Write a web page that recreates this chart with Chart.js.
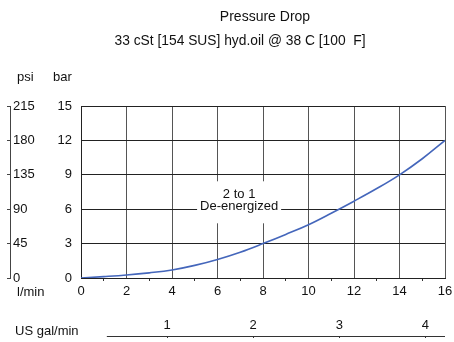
<!DOCTYPE html>
<html>
<head>
<meta charset="utf-8">
<script src="https://cdn.jsdelivr.net/npm/chart.js@4/dist/chart.umd.min.js"></script>
<style>
  html, body { margin: 0; padding: 0; background: #fff; }
  #wrap { width: 454px; height: 342px; }
</style>
</head>
<body>
<div id="wrap"><canvas id="chart" width="454" height="342"></canvas></div>
<script>
// Werte
const flowLpm = [0, 1, 2, 3, 4, 5, 6, 7, 8, 9, 10, 11, 12, 13, 14, 15, 16];
const dropBar = [0, 0.12, 0.26, 0.45, 0.7, 1.1, 1.62, 2.25, 3.0, 3.8, 4.65, 5.65, 6.7, 7.8, 9.0, 10.4, 12.0];
const barTicks = [0, 3, 6, 9, 12, 15];
const psiLabels = ['0', '45', '90', '135', '180', '215'];
const galTicks = [1, 2, 3, 4];
const LPM_PER_GAL = 3.785;

const titleText = 'Pressure Drop';
const subtitleText = '33 cSt [154 SUS] hyd.oil @ 38 C [100  F]';
const noteLines = ['2 to 1', 'De-energized'];
const noteAt = { x: 6.95, y: 7.3 }; // in Achsen-Einheiten (l/min, bar)
const galLineFrom = 0.3;            // gal/min, hier beginnt die untere Linie

const FONT = '"Liberation Sans", Arial, sans-serif';

// freie Texte, Kommentar und gal-Linie
const textPlugin = {
    id: 'texts',
    afterDraw(chart) {
        const ctx = chart.ctx;
        const gal = chart.scales.gal;
        ctx.save();

        // Linie der gal/min Achse
        ctx.strokeStyle = '#333';
        ctx.lineWidth = 1;
        ctx.beginPath();
        ctx.moveTo(gal.getPixelForValue(galLineFrom), gal.top + 0.5);
        ctx.lineTo(gal.right, gal.top + 0.5);
        ctx.stroke();

        ctx.fillStyle = '#111';
        ctx.textBaseline = 'middle';

        ctx.font = '14px ' + FONT;
        ctx.textAlign = 'center';
        ctx.fillText(titleText, 265, 17);
        ctx.font = '13.8px ' + FONT;
        ctx.fillText(subtitleText, 240, 41);

        ctx.font = '13px ' + FONT;
        ctx.textAlign = 'left';
        ctx.fillText('psi', 17, 77);
        ctx.fillText('bar', 53, 77);
        ctx.fillText('l/min', 17, 292);
        ctx.fillText('US gal/min', 15, 331);

        // Kommentar mit weissem Hintergrund
        const cx = chart.scales.x.getPixelForValue(noteAt.x);
        const cy = chart.scales.y.getPixelForValue(noteAt.y);
        const lh = 12.5;
        const wMax = Math.max(...noteLines.map(l => ctx.measureText(l).width));
        ctx.fillStyle = '#fff';
        ctx.fillRect(cx - wMax / 2 - 3, cy - 13, wMax + 6, lh * noteLines.length + 17);
        ctx.fillStyle = '#111';
        ctx.textAlign = 'center';
        noteLines.forEach((line, i) => {
            ctx.fillText(line, cx, cy + i * lh);
        });
        ctx.restore();
    }
};

const points = flowLpm.map((x, i) => ({ x: x, y: dropBar[i] }));

new Chart(document.getElementById('chart'), {
    type: 'line',
    data: {
        datasets: [{
            data: points,
            borderColor: '#4466bb',
            borderWidth: 1.6,
            pointRadius: 0,
            tension: 0.4,
            fill: false
        }]
    },
    options: {
        responsive: false,
        animation: false,
        events: [],
        layout: { padding: { top: 106, right: 9, left: 0, bottom: 0 } },
        plugins: {
            legend: { display: false },
            tooltip: { enabled: false }
        },
        scales: {
            x: {
                type: 'linear',
                position: 'bottom',
                weight: 0,
                min: 0,
                max: 16,
                ticks: {
                    stepSize: 1,
                    autoSkip: false,
                    maxRotation: 0,
                    padding: 3,
                    color: '#111',
                    font: { family: FONT, size: 13 },
                    callback: v => (v % 2 === 0 ? v : '')
                },
                grid: {
                    color: c => (c.tick && c.tick.value % 2 === 0 ? '#555' : 'rgba(0,0,0,0)'),
                    tickColor: c => (c.tick && c.tick.value % 2 === 1 ? '#333' : 'rgba(0,0,0,0)'),
                    tickLength: 3,
                    lineWidth: 1
                },
                border: { color: '#222' },
                afterFit: s => { s.height = 58; s.paddingLeft = 0; s.paddingRight = 0; }
            },
            gal: {
                type: 'linear',
                position: 'bottom',
                weight: 1,
                min: 0,
                max: 16 / LPM_PER_GAL,
                afterBuildTicks: s => { s.ticks = galTicks.map(v => ({ value: v })); },
                ticks: {
                    mirror: true,
                    padding: 3,
                    autoSkip: false,
                    maxRotation: 0,
                    color: '#111',
                    font: { family: FONT, size: 13 }
                },
                grid: { drawOnChartArea: false, tickLength: 2, color: '#333' },
                border: { display: false },
                afterFit: s => { s.height = 6; s.paddingLeft = 0; s.paddingRight = 0; }
            },
            y: {
                type: 'linear',
                position: 'left',
                weight: 0,
                min: 0,
                max: 15,
                afterBuildTicks: s => { s.ticks = barTicks.map(v => ({ value: v })); },
                ticks: {
                    padding: 9,
                    color: '#111',
                    font: { family: FONT, size: 13 }
                },
                grid: { color: '#222', drawTicks: false, lineWidth: 1 },
                border: { color: '#222' },
                afterFit: s => { s.width = 71; }
            },
            psi: {
                type: 'linear',
                position: 'left',
                weight: 1,
                min: 0,
                max: 15,
                afterBuildTicks: s => { s.ticks = barTicks.map(v => ({ value: v })); },
                ticks: {
                    mirror: true,
                    padding: 3,
                    color: '#111',
                    font: { family: FONT, size: 13 },
                    callback: (v, i) => psiLabels[i]
                },
                grid: { drawOnChartArea: false, tickLength: 3, color: '#444' },
                border: { color: '#444' },
                afterFit: s => { s.width = 10; }
            }
        }
    },
    plugins: [textPlugin]
});
</script>
</body>
</html>
